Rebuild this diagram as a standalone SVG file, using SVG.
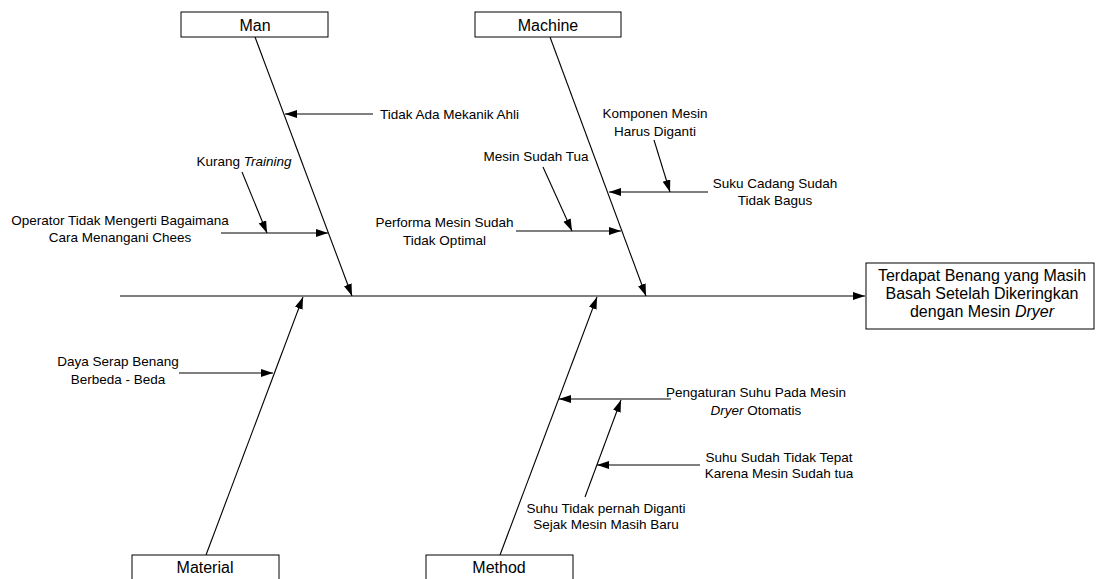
<svg xmlns="http://www.w3.org/2000/svg" width="1096" height="579" viewBox="0 0 1096 579">
<style>
.box{fill:#fff;stroke:#000;stroke-width:1}
.ln{stroke:#000;stroke-width:1.1;fill:none;marker-end:url(#ah)}
.t{font-family:"Liberation Sans",Arial,sans-serif;font-size:13.5px;fill:#000;text-anchor:middle}
.tl{font-family:"Liberation Sans",Arial,sans-serif;font-size:13.5px;fill:#000;text-anchor:start}
.h{font-family:"Liberation Sans",Arial,sans-serif;font-size:16px;fill:#000;text-anchor:middle}
</style>
<defs>
<marker id="ah" markerUnits="userSpaceOnUse" markerWidth="13" markerHeight="9" refX="12" refY="4" orient="auto">
<path d="M0,0 L12,4 L0,8 z" fill="#000"/>
</marker>
</defs>
<rect width="1096" height="579" fill="#fff"/>
<g id="connectors">
<line class="ln" x1="120" y1="296" x2="865" y2="296"/>
<line class="ln" x1="255" y1="37" x2="352" y2="296"/>
<line class="ln" x1="550" y1="37" x2="646" y2="296"/>
<line class="ln" x1="206" y1="555" x2="303" y2="297"/>
<line class="ln" x1="500" y1="555" x2="597" y2="297"/>
<line class="ln" x1="373" y1="114" x2="285" y2="114"/>
<line class="ln" x1="221" y1="233" x2="328" y2="233"/>
<line class="ln" x1="242" y1="172" x2="267" y2="233"/>
<line class="ln" x1="516" y1="231" x2="621" y2="231"/>
<line class="ln" x1="543" y1="167" x2="572" y2="231"/>
<line class="ln" x1="708" y1="192" x2="609" y2="192"/>
<line class="ln" x1="654" y1="140" x2="670" y2="192"/>
<line class="ln" x1="179" y1="373" x2="273" y2="373"/>
<line class="ln" x1="671" y1="399" x2="559" y2="399"/>
<line class="ln" x1="585" y1="497" x2="621" y2="400"/>
<line class="ln" x1="700" y1="465" x2="597" y2="465"/>
</g>
<g id="effect">
<rect class="box" x="866" y="263" width="228" height="66"/>
<text class="h" x="982" y="281">Terdapat Benang yang Masih</text>
<text class="h" x="982" y="299">Basah Setelah Dikeringkan</text>
<text class="h" x="982" y="317">dengan Mesin <tspan font-style="italic">Dryer</tspan></text>
</g>
<g id="man">
<rect class="box" x="181" y="12" width="147" height="25"/>
<text class="h" x="255" y="30.5">Man</text>
</g>
<g id="machine">
<rect class="box" x="475" y="12" width="146" height="25"/>
<text class="h" x="548" y="30.5">Machine</text>
</g>
<g id="material">
<rect class="box" x="132" y="555" width="147" height="30"/>
<text class="h" x="205" y="573">Material</text>
</g>
<g id="method">
<rect class="box" x="426" y="555" width="147" height="30"/>
<text class="h" x="499" y="573">Method</text>
</g>
<g id="cause-mekanik"><text class="tl" x="380" y="119">Tidak Ada Mekanik Ahli</text></g>
<g id="cause-training"><text class="t" x="244" y="166">Kurang <tspan font-style="italic">Training</tspan></text></g>
<g id="cause-operator">
<text class="t" x="120" y="225">Operator Tidak Mengerti Bagaimana</text>
<text class="t" x="120" y="242">Cara Menangani Chees</text>
</g>
<g id="cause-performa">
<text class="t" x="444.5" y="227">Performa Mesin Sudah</text>
<text class="t" x="444.5" y="245">Tidak Optimal</text>
</g>
<g id="cause-tua"><text class="t" x="536" y="161">Mesin Sudah Tua</text></g>
<g id="cause-komponen">
<text class="t" x="655" y="118">Komponen Mesin</text>
<text class="t" x="655" y="136">Harus Diganti</text>
</g>
<g id="cause-suku">
<text class="t" x="775" y="188">Suku Cadang Sudah</text>
<text class="t" x="775" y="205">Tidak Bagus</text>
</g>
<g id="cause-daya">
<text class="t" x="118" y="366">Daya Serap Benang</text>
<text class="t" x="118" y="384">Berbeda - Beda</text>
</g>
<g id="cause-pengaturan">
<text class="t" x="756" y="397">Pengaturan Suhu Pada Mesin</text>
<text class="t" x="756" y="415"><tspan font-style="italic">Dryer</tspan> Otomatis</text>
</g>
<g id="cause-suhu-tidak">
<text class="t" x="606" y="513">Suhu Tidak pernah Diganti</text>
<text class="t" x="606" y="529">Sejak Mesin Masih Baru</text>
</g>
<g id="cause-suhu-sudah">
<text class="t" x="779" y="462">Suhu Sudah Tidak Tepat</text>
<text class="t" x="779" y="478">Karena Mesin Sudah tua</text>
</g>
</svg>
